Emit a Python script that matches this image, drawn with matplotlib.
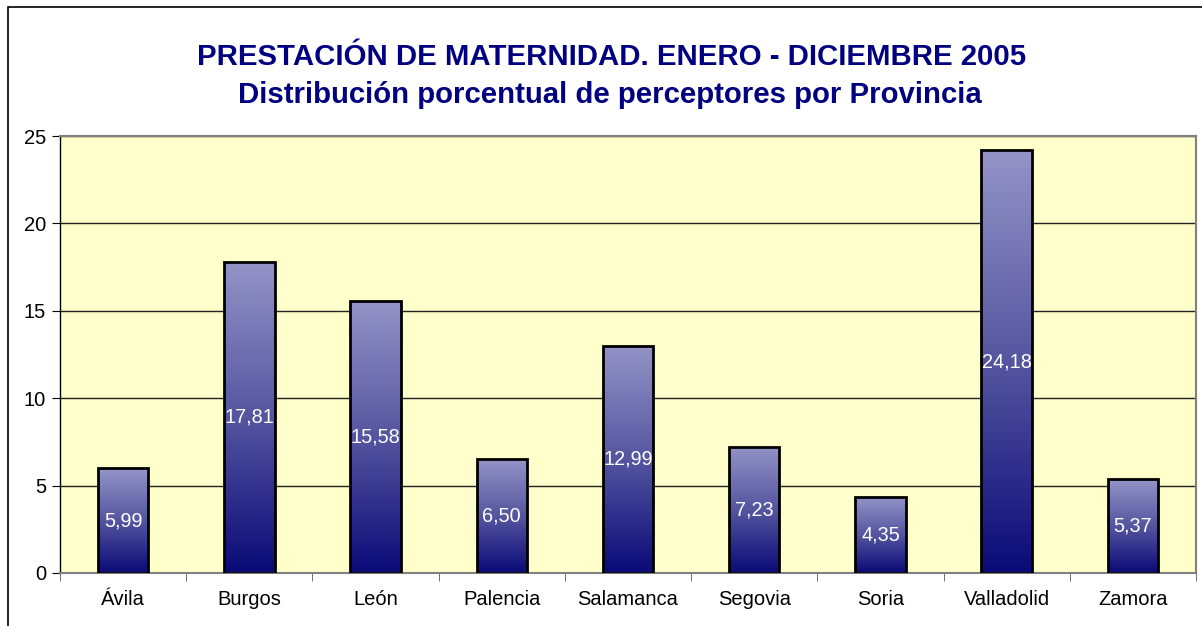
import matplotlib
matplotlib.use("Agg")
import matplotlib.pyplot as plt
import numpy as np
from matplotlib.colors import LinearSegmentedColormap
from matplotlib.patches import Rectangle

provincias = ["Ávila", "Burgos", "León", "Palencia", "Salamanca", "Segovia", "Soria", "Valladolid", "Zamora"]
porcentajes = [5.99, 17.81, 15.58, 6.50, 12.99, 7.23, 4.35, 24.18, 5.37]
y_ticks = [0, 5, 10, 15, 20, 25]
titulo1 = "PRESTACIÓN DE MATERNIDAD. ENERO - DICIEMBRE 2005"
titulo2 = "Distribución porcentual de perceptores por Provincia"

plt.rcParams['font.family'] = ['Liberation Sans', 'DejaVu Sans']

W, H = 1202, 626
fig = plt.figure(figsize=(W/100, H/100), dpi=100)
ax = fig.add_axes([60/W, 1-573/H, (1196-60)/W, (573-136)/H])
ax.set_facecolor('#FFFFCC')

# figure border
fig.patches.append(Rectangle((8/W, -0.5), 2.0, 1-7/H+0.5, transform=fig.transFigure,
                             fill=False, edgecolor='black', linewidth=1.2, zorder=10))

x = np.arange(len(provincias))

for yv in y_ticks[1:]:
    ax.axhline(yv, color='#222222', linewidth=1.0, zorder=1)

cmap = LinearSegmentedColormap.from_list('g', ['#0A0A78', '#5555A0', '#9494C8'])
grad = np.linspace(0, 1, 256).reshape(-1, 1)
bars = ax.bar(x, porcentajes, width=0.4, facecolor='none', edgecolor='black',
              linewidth=2.0, zorder=3)
for b, v in zip(bars, porcentajes):
    x0, w, h = b.get_x(), b.get_width(), b.get_height()
    im = ax.imshow(grad, cmap=cmap, origin='lower', aspect='auto',
                   extent=(x0, x0+w, 0, h), zorder=2)
    im.set_clip_path(b)
    ax.text(x0+w/2, h/2, f"{v:.2f}".replace('.', ','), ha='center', va='center',
            color='white', fontsize=14.3, zorder=4)
ax.set_xlim(-0.5, len(provincias)-0.5)
ax.set_ylim(0, 25)

ax.set_yticks(y_ticks)
ax.set_yticklabels([str(t) for t in y_ticks], fontsize=14.5)
ax.set_xticks(x)
ax.set_xticklabels(provincias, fontsize=14.5)
ax.set_xticks(np.arange(-0.5, len(provincias), 1.0), minor=True)
ax.tick_params(axis='x', which='major', length=0, pad=12)
ax.tick_params(axis='x', which='minor', length=6, color='#555555', direction='out')
ax.tick_params(axis='y', length=6, direction='out', pad=4)

for s in ['top', 'right', 'bottom']:
    ax.spines[s].set_color('#808080')
    ax.spines[s].set_linewidth(1.5)
ax.spines['left'].set_color('black')
ax.spines['left'].set_linewidth(1.0)

fig.text(612/W, 1-57/H, titulo1, ha='center', va='center', fontsize=21.2,
         fontweight='bold', color='#000080')
fig.text(610/W, 1-95/H, titulo2, ha='center', va='center', fontsize=21.2,
         fontweight='bold', color='#000080')

fig.savefig('out.png', dpi=100)
